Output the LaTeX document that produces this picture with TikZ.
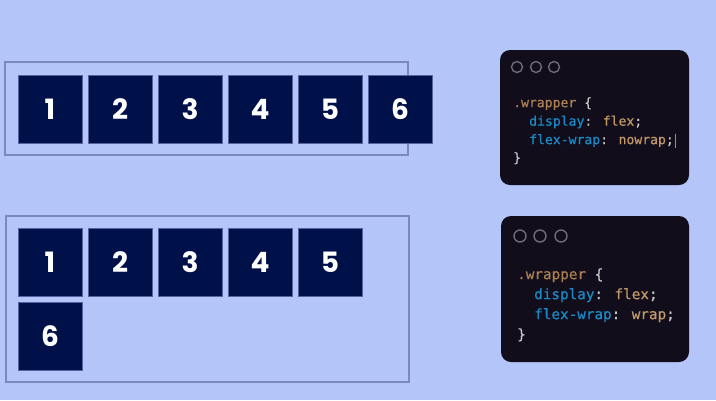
\documentclass[tikz,border=0pt]{standalone}
\usepackage{fontspec}
\newfontfamily\numfont{Poppins}
\newfontfamily\codefont[FakeBold=0.6]{DejaVu Sans Mono}
\definecolor{bgc}{HTML}{B4C5FA}
\definecolor{boxc}{HTML}{00114A}
\definecolor{framec}{HTML}{7A88C2}
\definecolor{winc}{HTML}{110D1B}
\definecolor{dotc}{HTML}{6E6A78}
\definecolor{selc}{HTML}{A97F52}
\definecolor{keyc}{HTML}{1A8AC7}
\definecolor{valc}{HTML}{C2976A}
\definecolor{punc}{HTML}{C8C8C8}
\tikzset{
  item/.style={fill=boxc, draw=framec!70!boxc, line width=0.5pt, minimum width=64pt, minimum height=68pt, inner sep=0pt, text=white, font=\numfont\bfseries\fontsize{28}{30}\selectfont},
  container/.style={draw=framec, line width=1.2pt},
  window/.style={fill=winc, rounded corners=10pt},
  winbtn/.style={draw=dotc, line width=1.4pt},
  codeA/.style={anchor=mid west, inner sep=0pt, font=\codefont\fontsize{13.1}{15}\selectfont},
  codeB/.style={anchor=mid west, inner sep=0pt, font=\codefont\fontsize{14.3}{16}\selectfont}
}
\begin{document}
\begin{tikzpicture}[x=1pt,y=-1pt]
\fill[bgc] (0,0) rectangle (716,400);
\useasboundingbox (0,0) rectangle (716,400);
% top container (nowrap)
\draw[container] (5,62) rectangle (408,155);
\foreach \i in {1,...,6}{
  \node[item] (t\i) at ({50+70*(\i-1)},109) {\i};
}
% bottom container (wrap)
\draw[container] (6,216) rectangle (409,382);
\foreach \i in {1,...,5}{
  \node[item] (b\i) at ({50+70*(\i-1)},262) {\i};
}
\node[item] (b6) at (50,336) {6};
% code window 1
\fill[window] (500,50) rectangle (689,185);
\draw[winbtn] (517,67) circle (5.5);
\draw[winbtn] (536,67) circle (5.5);
\draw[winbtn] (554,67) circle (5.5);
\node[codeA] (a1) at (513,105) {\textcolor{selc}{.wrapper} \textcolor{punc}{\{}};
\node[codeA] (a2) at (529,123.5) {\textcolor{keyc}{display}\textcolor{punc}{:} \textcolor{valc}{flex}\textcolor{punc}{;}};
\node[codeA] (a3) at (529,142) {\textcolor{keyc}{flex-wrap}\textcolor{punc}{:} \textcolor{valc}{nowrap}\textcolor{punc}{;}};
\node[codeA] (a4) at (513,160) {\textcolor{punc}{\}}};
\draw[punc!70!winc, line width=0.6pt] (a3.east) ++(1.5,-7) -- ++(0,14);
% code window 2
\fill[window] (501,216) rectangle (689,362);
\draw[winbtn] (520,236) circle (6);
\draw[winbtn] (540,236) circle (6);
\draw[winbtn] (561,236) circle (6);
\node[codeB] (c1) at (517,277) {\textcolor{selc}{.wrapper} \textcolor{punc}{\{}};
\node[codeB] (c2) at (534,297) {\textcolor{keyc}{display}\textcolor{punc}{:} \textcolor{valc}{flex}\textcolor{punc}{;}};
\node[codeB] (c3) at (534,317) {\textcolor{keyc}{flex-wrap}\textcolor{punc}{:} \textcolor{valc}{wrap}\textcolor{punc}{;}};
\node[codeB] (c4) at (517,337) {\textcolor{punc}{\}}};
\end{tikzpicture}
\end{document}
